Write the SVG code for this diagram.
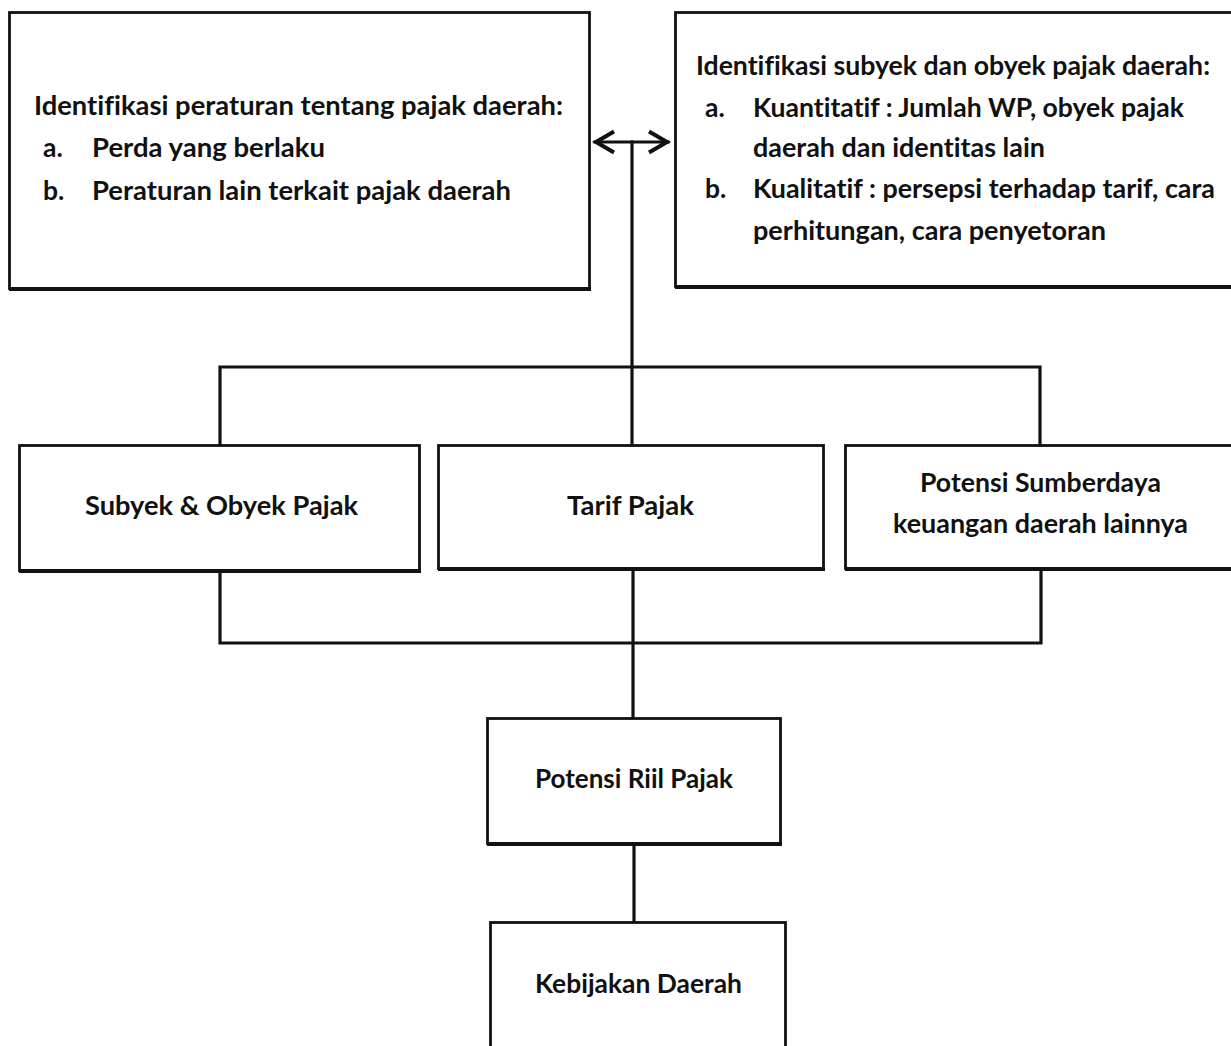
<svg xmlns="http://www.w3.org/2000/svg" width="1231" height="1046" viewBox="0 0 1231 1046">
<style>
.box{fill:#fff;stroke:#111;stroke-width:2.8}
.sh{fill:none;stroke:#111;stroke-width:4;stroke-linecap:square}
.cn{fill:none;stroke:#111;stroke-width:3.2;stroke-linecap:square}
.t{font-family:Lato,"Open Sans","Liberation Sans",sans-serif;font-weight:700;font-size:26.5px;fill:#111;font-variant-ligatures:none}
.m{text-anchor:middle}
</style>
<defs>
<marker id="ah" viewBox="0 0 26 26" refX="23" refY="13" markerWidth="26" markerHeight="26" markerUnits="userSpaceOnUse" orient="auto-start-reverse">
<path d="M4,2.5 L22,13 L4,23.5" fill="none" stroke="#111" stroke-width="4" stroke-linejoin="miter"/>
</marker>
</defs>
<rect width="1231" height="1046" fill="#fff"/>

<g id="connectors">
<line class="cn" x1="595" y1="142" x2="668" y2="142" marker-start="url(#ah)" marker-end="url(#ah)"/>
<line class="cn" x1="632" y1="142" x2="632" y2="445"/>
<polyline class="cn" points="220,445 220,367 1040,367 1040,445"/>
<polyline class="cn" points="220,571 220,643 1041,643 1041,570"/>
<line class="cn" x1="633" y1="570" x2="633" y2="718"/>
<line class="cn" x1="634" y1="845" x2="634" y2="922"/>
</g>

<g id="node-peraturan">
<rect class="box" x="9.5" y="12.5" width="580" height="276"/>
<line class="sh" x1="11" y1="289" x2="589" y2="289"/>
<text class="t" x="34" y="115" textLength="529" lengthAdjust="spacingAndGlyphs">Identifikasi peraturan tentang pajak daerah:</text>
<text class="t" x="43" y="157">a.</text>
<text class="t" x="92" y="157" textLength="233" lengthAdjust="spacingAndGlyphs">Perda yang berlaku</text>
<text class="t" x="43" y="200">b.</text>
<text class="t" x="92" y="200" textLength="419" lengthAdjust="spacingAndGlyphs">Peraturan lain terkait pajak daerah</text>
</g>

<g id="node-subyek-obyek">
<rect class="box" x="675.5" y="12.5" width="570" height="274"/>
<line class="sh" x1="677" y1="287" x2="1240" y2="287"/>
<text class="t" x="696" y="75" textLength="514" lengthAdjust="spacingAndGlyphs">Identifikasi subyek dan obyek pajak daerah:</text>
<text class="t" x="705" y="117">a.</text>
<text class="t" x="753" y="117" textLength="431" lengthAdjust="spacingAndGlyphs">Kuantitatif : Jumlah WP, obyek pajak</text>
<text class="t" x="753" y="157" textLength="292" lengthAdjust="spacingAndGlyphs">daerah dan identitas lain</text>
<text class="t" x="705" y="198">b.</text>
<text class="t" x="753" y="198" textLength="462" lengthAdjust="spacingAndGlyphs">Kualitatif : persepsi terhadap tarif, cara</text>
<text class="t" x="753" y="240" textLength="353" lengthAdjust="spacingAndGlyphs">perhitungan, cara penyetoran</text>
</g>

<g id="node-subyek">
<rect class="box" x="19.5" y="445.5" width="400" height="125"/>
<line class="sh" x1="21" y1="571" x2="419" y2="571"/>
<text class="t m" x="221.5" y="515" textLength="273" lengthAdjust="spacingAndGlyphs">Subyek &amp; Obyek Pajak</text>
</g>

<g id="node-tarif">
<rect class="box" x="438.5" y="445.5" width="385" height="123"/>
<line class="sh" x1="440" y1="569" x2="823" y2="569"/>
<text class="t m" x="630.5" y="515" textLength="127" lengthAdjust="spacingAndGlyphs">Tarif Pajak</text>
</g>

<g id="node-potensi-sumberdaya">
<rect class="box" x="845.5" y="445.5" width="400" height="123"/>
<line class="sh" x1="847" y1="569" x2="1240" y2="569"/>
<text class="t m" x="1040.5" y="492" textLength="241" lengthAdjust="spacingAndGlyphs">Potensi Sumberdaya</text>
<text class="t m" x="1040.5" y="533" textLength="295" lengthAdjust="spacingAndGlyphs">keuangan daerah lainnya</text>
</g>

<g id="node-potensi-riil">
<rect class="box" x="487.5" y="718.5" width="293" height="125"/>
<line class="sh" x1="489" y1="844" x2="780" y2="844"/>
<text class="t m" x="634" y="788" textLength="198" lengthAdjust="spacingAndGlyphs">Potensi Riil Pajak</text>
</g>

<g id="node-kebijakan">
<rect class="box" x="490.5" y="922.5" width="295" height="140"/>
<text class="t m" x="638.5" y="993" textLength="207" lengthAdjust="spacingAndGlyphs">Kebijakan Daerah</text>
</g>
</svg>
